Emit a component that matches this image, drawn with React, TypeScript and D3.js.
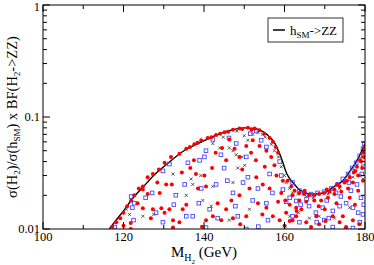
import React from 'react';
import * as d3 from 'd3';

// SM reference curve h_SM -> ZZ
const curveMass = [116.5, 118, 120, 122.4, 125, 127.5, 130.8, 135, 139, 143, 147.2, 150, 152.5, 155.6, 157.5, 159, 160.6, 162.5, 164, 167, 170, 172, 174.5, 176.3, 178.2, 180];
const curveVal = [0.01, 0.0118, 0.0145, 0.019, 0.024, 0.03, 0.038, 0.05, 0.059, 0.069, 0.077, 0.08, 0.079, 0.07, 0.059, 0.045, 0.031, 0.025, 0.022, 0.0205, 0.021, 0.0235, 0.027, 0.033, 0.042, 0.058];

// scan points: [mass, value]
const redPts: [number, number][] = [
  [117.2, 0.0105], [118.2, 0.0115], [119.2, 0.0125], [120, 0.014], [120.9, 0.016], [121.9, 0.018], [122.7, 0.02], [123.8, 0.023],
  [124.8, 0.024], [126, 0.029], [127.3, 0.031], [128.8, 0.034], [130.2, 0.039], [131.8, 0.044], [133.9, 0.047], [135.6, 0.052],
  [137.6, 0.057], [139.3, 0.062], [140.9, 0.065], [143, 0.069], [145.1, 0.073], [147.2, 0.077], [148.8, 0.079], [150.9, 0.08],
  [152.6, 0.079], [153.8, 0.076], [155, 0.071], [156.3, 0.065], [157.1, 0.06], [157.8, 0.054], [158.4, 0.048],
  [144, 0.071], [146, 0.074], [149.5, 0.078], [151.8, 0.077], [141.8, 0.066], [138.4, 0.059], [136.5, 0.054],
  [121.8, 0.01], [120, 0.0107], [121.8, 0.0113], [124.8, 0.0225], [128.4, 0.026], [130.6, 0.025], [132, 0.025], [126, 0.0205],
  [124.8, 0.0153], [127.3, 0.015], [129.4, 0.0153], [130.2, 0.014], [131.4, 0.015], [134.7, 0.015], [135.6, 0.0165], [132.3, 0.012],
  [133.9, 0.0115], [132.3, 0.0103], [136.6, 0.035], [138, 0.031], [140.1, 0.03], [138.5, 0.023], [140.5, 0.024], [142, 0.035],
  [142.9, 0.048], [145.5, 0.041], [144.5, 0.053], [146.3, 0.063], [147.6, 0.052], [148.8, 0.044], [150.5, 0.055], [152.1, 0.062],
  [151.7, 0.048], [152.9, 0.041], [155.5, 0.05], [156.7, 0.044], [155.1, 0.036], [153, 0.029], [154.6, 0.025], [156.3, 0.023],
  [151.3, 0.023], [148.8, 0.02], [146.8, 0.018], [145.5, 0.015], [143.4, 0.017], [142.2, 0.013], [140.5, 0.012], [144.3, 0.012],
  [147.2, 0.0125], [150.5, 0.013], [153.4, 0.017], [155.5, 0.0155], [157.1, 0.013], [158.4, 0.0175], [159.2, 0.021], [159.6, 0.027],
  [158, 0.03], [158.8, 0.012], [160, 0.0107], [161.3, 0.0118], [162.9, 0.013], [164.2, 0.015], [165.4, 0.0115], [166.6, 0.0104],
  [168.6, 0.011], [170.2, 0.0118], [172, 0.013], [173.7, 0.0115], [175.3, 0.0104], [177, 0.012], [178.6, 0.011],
  [160.8, 0.027], [161.7, 0.024], [162.5, 0.022], [163.7, 0.021], [164.9, 0.0205], [166.1, 0.02], [167.4, 0.02], [168.6, 0.0205],
  [169.8, 0.021], [171.2, 0.0215], [172.4, 0.0225], [173.7, 0.024], [174.9, 0.026], [176.2, 0.029], [177.2, 0.032], [178, 0.036],
  [178.8, 0.041], [179.5, 0.048], [179.8, 0.053], [162, 0.02], [163.7, 0.018], [165.4, 0.0175], [167.4, 0.018], [169.1, 0.018],
  [170.8, 0.019], [172.4, 0.0205], [174.1, 0.0215], [175.8, 0.023], [177, 0.026], [178.3, 0.03], [179.3, 0.035], [161.3, 0.0165],
  [162.9, 0.0155], [168.5, 0.016], [172.9, 0.017], [176.2, 0.019], [178.3, 0.022], [179.5, 0.027], [160.4, 0.014], [162, 0.012],
  [167.9, 0.013], [170.5, 0.0225], [175.5, 0.027], [177.6, 0.033], [179, 0.04], [179.7, 0.044], [173, 0.025], [165, 0.022],
  [134.5, 0.032], [129, 0.021], [123.5, 0.017], [137.5, 0.041], [149.5, 0.034], [153.8, 0.055], [157.5, 0.037], [126.8, 0.0125],
  [139.5, 0.0105], [149, 0.011], [154.5, 0.0135], [160.2, 0.018], [163, 0.0145], [170, 0.015], [174.5, 0.013], [177.5, 0.0165],
];

const bluePts: [number, number][] = [
  [117.8, 0.0104], [122.2, 0.0155], [122.5, 0.012], [121.9, 0.0195], [122.7, 0.017], [127.1, 0.021], [129.8, 0.033], [131.4, 0.038],
  [128.1, 0.014], [129.8, 0.0115], [135.2, 0.025], [137.2, 0.013], [139.3, 0.023], [140.1, 0.044], [140.5, 0.05], [142.2, 0.063],
  [138.9, 0.041], [141.4, 0.015], [143, 0.025], [143.4, 0.0125], [146.2, 0.065], [147.2, 0.021], [148.4, 0.013], [149.7, 0.026],
  [150.5, 0.044], [150.9, 0.029], [152.1, 0.018], [153.4, 0.023], [154.2, 0.062], [155.5, 0.054], [155.5, 0.017], [155.9, 0.012],
  [156.3, 0.031], [150.5, 0.01], [140.5, 0.0103], [135.6, 0.013], [138.7, 0.017], [133, 0.02], [136, 0.039], [145, 0.035],
  [148, 0.058], [151.5, 0.071], [153, 0.075], [145.8, 0.027], [144.2, 0.046], [147.8, 0.016], [125.5, 0.019], [132.5, 0.0165],
  [162, 0.026], [163.7, 0.022], [164.9, 0.021], [166.6, 0.0205], [168.2, 0.021], [169.8, 0.0215], [171.6, 0.023], [173.3, 0.025],
  [174.5, 0.028], [175.8, 0.031], [176.8, 0.035], [177.8, 0.039], [178.7, 0.045], [179.5, 0.052], [179.8, 0.057], [161.3, 0.019],
  [162.9, 0.0178], [166.1, 0.016], [167.8, 0.014], [169.5, 0.0155], [172, 0.0145], [173.7, 0.016], [175.3, 0.017], [177, 0.0155],
  [178.3, 0.014], [179, 0.019], [179.5, 0.0135], [175.3, 0.01], [177, 0.0102], [172, 0.0104], [169.9, 0.012], [168, 0.0115],
  [163.7, 0.0115], [162, 0.013], [160.4, 0.0175], [159.6, 0.0225], [159.2, 0.03], [158.8, 0.04], [170.5, 0.018], [174, 0.0195],
  [176.5, 0.022], [178, 0.025], [179.2, 0.031], [179.6, 0.036], [176, 0.026], [172.8, 0.021], [165.5, 0.0185], [164, 0.0165],
  [171, 0.0125], [178.7, 0.0115], [179.7, 0.0165], [157, 0.021], [153.5, 0.0105],
];

const blackPts: [number, number][] = [
  [120.7, 0.015], [121.5, 0.0135], [124.8, 0.013], [136.8, 0.028], [137.2, 0.025], [139.2, 0.03], [142.2, 0.058], [143.9, 0.053],
  [146.3, 0.053], [147.2, 0.05], [148, 0.046], [148.4, 0.035], [150.1, 0.037], [150.9, 0.062], [152.1, 0.07], [153.4, 0.073],
  [155.2, 0.066], [156.7, 0.057], [157.5, 0.05], [158.5, 0.044], [159.2, 0.036], [160, 0.03], [160.4, 0.026], [161.3, 0.023],
  [162, 0.021], [163.3, 0.0205], [165.4, 0.0195], [167.1, 0.019], [170.8, 0.0205], [173.7, 0.023], [177, 0.029], [178.7, 0.03],
  [179.5, 0.028], [146.3, 0.012], [141.8, 0.016], [139.7, 0.018], [161.3, 0.013], [163.5, 0.014], [166.2, 0.0125], [168.6, 0.013],
  [172.4, 0.0125], [176.2, 0.0155], [142.2, 0.024], [135.6, 0.02], [132.3, 0.031], [147.2, 0.026], [151.3, 0.015], [149.5, 0.044],
  [148.2, 0.075], [144.8, 0.066], [150, 0.068], [154.5, 0.07], [127.5, 0.0135], [160.2, 0.0105],
];

const tickVals = [100, 120, 140, 160, 180];
const yTickVals = [0.01, 0.1, 1];
const legendLabel = 'h';

const W = 374;
const H = 265;
const m = { left: 43, right: 9, top: 5, bottom: 36 };

export default function App() {
  const x = d3.scaleLinear().domain([100, 180]).range([m.left, W - m.right]);
  const y = d3.scaleLog().domain([0.01, 1]).range([H - m.bottom, m.top]);
  const x0 = m.left, x1 = W - m.right, y0 = H - m.bottom, y1 = m.top;

  const line = d3.line<number>()
    .x((d, i) => x(curveMass[i]))
    .y(d => y(d))
    .curve(d3.curveMonotoneX);

  const minorX = d3.range(100, 181, 10).filter(v => !tickVals.includes(v));
  const minorY = y.ticks().filter(v => !yTickVals.some(t => Math.abs(t - v) < 1e-9));
  const font = 'Liberation Serif, Times New Roman, serif';

  return (
    <svg width={W} height={H} style={{ position: 'absolute', left: 0, top: 0, background: '#fff' }} fontFamily={font}>
      <defs>
        <clipPath id="plot">
          <rect x={x0} y={y1} width={x1 - x0} height={y0 - y1} />
        </clipPath>
      </defs>

      <g clipPath="url(#plot)">
        <path d={line(curveVal) || ''} fill="none" stroke="#000" strokeWidth={1.4} />
        {blackPts.map(([a, b], i) => {
          const cx = x(a), cy = y(b), s = 1.5;
          return (
            <path key={'k' + i} d={`M${cx - s},${cy - s}L${cx + s},${cy + s}M${cx - s},${cy + s}L${cx + s},${cy - s}`}
              stroke="#333" strokeWidth={0.8} />
          );
        })}
        {bluePts.map(([a, b], i) => (
          <rect key={'b' + i} x={x(a) - 1.8} y={y(b) - 1.8} width={3.6} height={3.6} fill="none" stroke="#4747ff" strokeWidth={0.9} />
        ))}
        {redPts.map(([a, b], i) => (
          <circle key={'r' + i} cx={x(a)} cy={y(b)} r={2} fill="#ff0000" />
        ))}
      </g>

      {/* frame */}
      <rect x={x0} y={y1} width={x1 - x0} height={y0 - y1} fill="none" stroke="#000" strokeWidth={1} />

      {/* x ticks, bottom and top */}
      {tickVals.map(v => (
        <g key={'xt' + v}>
          <line x1={x(v)} x2={x(v)} y1={y0} y2={y0 - 7} stroke="#000" />
          <line x1={x(v)} x2={x(v)} y1={y1} y2={y1 + 7} stroke="#000" />
          <text x={x(v)} y={y0 + 12} textAnchor="middle" fontSize={12.5}>{v}</text>
        </g>
      ))}
      {minorX.map(v => (
        <g key={'xm' + v}>
          <line x1={x(v)} x2={x(v)} y1={y0} y2={y0 - 4} stroke="#000" />
          <line x1={x(v)} x2={x(v)} y1={y1} y2={y1 + 4} stroke="#000" />
        </g>
      ))}

      {/* y ticks, left and right */}
      {yTickVals.map(v => (
        <g key={'yt' + v}>
          <line x1={x0} x2={x0 + 7} y1={y(v)} y2={y(v)} stroke="#000" />
          <line x1={x1} x2={x1 - 7} y1={y(v)} y2={y(v)} stroke="#000" />
          <text x={x0 - 3} y={Math.max(y(v) + 4, 11)} textAnchor="end" fontSize={12.5}>{v}</text>
        </g>
      ))}
      {minorY.map(v => (
        <g key={'ym' + v}>
          <line x1={x0} x2={x0 + 4} y1={y(v)} y2={y(v)} stroke="#000" />
          <line x1={x1} x2={x1 - 4} y1={y(v)} y2={y(v)} stroke="#000" />
        </g>
      ))}

      {/* x title */}
      <text x={204} y={257} textAnchor="middle" fontSize={15}>
        M<tspan dy={4} fontSize={10}>H</tspan><tspan dy={3} fontSize={7}>2</tspan><tspan dy={-7}> (GeV)</tspan>
      </text>

      {/* y title */}
      <text transform={`translate(17,${(y0 + y1) / 2}) rotate(-90)`} textAnchor="middle" fontSize={14.5}>
        σ(H<tspan dy={3} fontSize={9}>2</tspan><tspan dy={-3}>)/σ(h</tspan><tspan dy={3} fontSize={9}>SM</tspan><tspan dy={-3}>) x BF(H</tspan><tspan dy={3} fontSize={9}>2</tspan><tspan dy={-3}>-&gt;ZZ)</tspan>
      </text>

      {/* legend */}
      <rect x={268} y={18} width={75} height={24} fill="#fff" stroke="#000" strokeWidth={0.8} />
      <line x1={273} x2={285} y1={30} y2={30} stroke="#000" strokeWidth={1.5} />
      <text x={290} y={35} fontSize={13}>
        {legendLabel}<tspan dy={3} fontSize={9}>SM</tspan><tspan dy={-3}>-&gt;ZZ</tspan>
      </text>
    </svg>
  );
}
